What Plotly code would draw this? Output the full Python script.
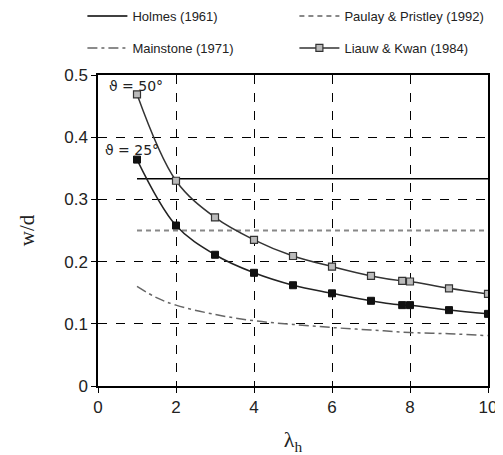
import plotly.graph_objects as go

# Liauw & Kwan (1984)
lk_x = [1, 2, 3, 4, 5, 6, 7, 7.8, 8, 9, 10]
lk_50 = [0.469, 0.330, 0.271, 0.235, 0.209, 0.192, 0.177, 0.169, 0.168, 0.157, 0.148]
lk_25 = [0.364, 0.258, 0.211, 0.182, 0.162, 0.149, 0.137, 0.130, 0.130, 0.122, 0.116]
# Mainstone (1971)
ms_x = [1, 1.5, 2, 3, 4, 5, 6, 7, 8, 9, 10]
ms_y = [0.160, 0.142, 0.130, 0.115, 0.105, 0.099, 0.094, 0.090, 0.086, 0.084, 0.081]
# Holmes (1961), Paulay & Pristley (1992)
hl_x = [1, 10]
hl_y = [0.333, 0.333]
pp_x = [1, 10]
pp_y = [0.25, 0.25]

fig = go.Figure()
fig.add_trace(go.Scatter(x=hl_x, y=hl_y, mode="lines", name="Holmes (1961)", legend="legend",
                         line=dict(color="black", width=1.5)))
fig.add_trace(go.Scatter(x=pp_x, y=pp_y, mode="lines", name="Paulay & Pristley (1992)", legend="legend",
                         line=dict(color="#888888", width=2, dash="5px,4px")))
fig.add_trace(go.Scatter(x=ms_x, y=ms_y, mode="lines", name="Mainstone (1971)", legend="legend2",
                         line=dict(color="#666666", width=1.5, dash="10px,4px,3px,4px", shape="spline")))
fig.add_trace(go.Scatter(x=lk_x, y=lk_50, mode="lines+markers", name="Liauw & Kwan (1984)", legend="legend2",
                         line=dict(color="#333333", width=1.5, shape="spline"),
                         marker=dict(symbol="square", size=7, color="#bbbbbb",
                                     line=dict(color="#333333", width=1.2))))
fig.add_trace(go.Scatter(x=lk_x, y=lk_25, mode="lines+markers", showlegend=False,
                         line=dict(color="#222222", width=1.5, shape="spline"),
                         marker=dict(symbol="square", size=7, color="#111111",
                                     line=dict(color="#111111", width=1))))

fig.add_annotation(x=0.23, y=0.482, text="ϑ = 50°", showarrow=False, xanchor="left",
                   yanchor="middle", font=dict(family="DejaVu Sans", size=14, color="#222"))
fig.add_annotation(x=0.13, y=0.379, text="ϑ = 25°", showarrow=False, xanchor="left",
                   yanchor="middle", font=dict(family="DejaVu Sans", size=14, color="#222"))

axis_common = dict(showline=True, linecolor="black", linewidth=1.5, mirror=True,
                   ticks="outside", ticklen=5, tickcolor="black",
                   showgrid=True, gridcolor="black", gridwidth=1, griddash="dash",
                   zeroline=False,
                   tickfont=dict(family="Liberation Sans", size=17, color="#222"))

fig.update_xaxes(range=[0, 10], dtick=2, tick0=0,
                 title=dict(text="λ<sub>h</sub>", font=dict(family="Liberation Serif", size=22, color="#222"),
                            standoff=16),
                 **axis_common)
fig.update_yaxes(range=[0, 0.5], dtick=0.1, tick0=0,
                 title=dict(text="w/d", font=dict(family="Liberation Serif", size=21, color="#222"),
                            standoff=24),
                 **axis_common)

leg_common = dict(orientation="h", xanchor="left", yanchor="middle",
                  entrywidth=157, entrywidthmode="pixels",
                  font=dict(family="Liberation Sans", size=13, color="#222"),
                  itemwidth=40, bgcolor="rgba(0,0,0,0)")

fig.update_layout(
    width=495, height=447,
    margin=dict(l=90, r=15, t=67, b=69, autoexpand=False),
    plot_bgcolor="white", paper_bgcolor="white",
    legend=dict(x=-0.04, y=(378 - 8) / 311, **leg_common),
    legend2=dict(x=-0.04, y=(378 - 40) / 311, **leg_common),
)

fig.write_html("out.html")
